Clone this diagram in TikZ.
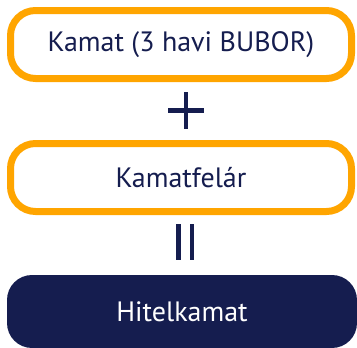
\documentclass[tikz,border=0pt]{standalone}
\usepackage{fontspec}
\setmainfont{PT Sans}
\definecolor{navy}{HTML}{151D4F}
\definecolor{boxorange}{HTML}{FFA500}
\begin{document}
\begin{tikzpicture}[x=1pt,y=-1pt,
  obox/.style={draw=boxorange,line width=7pt,fill=white,rounded corners=25pt,
    minimum width=341pt,minimum height=68pt,inner sep=0pt,text=navy,
    font=\fontsize{28}{30}\selectfont},
  nbox/.style={fill=navy,rounded corners=25pt,draw=none,
    minimum width=350pt,minimum height=73pt,inner sep=0pt,text=white,
    font=\fontsize{28}{30}\selectfont},
  sym/.style={draw=navy,line width=4.5pt}]
\useasboundingbox (0,0) rectangle (357,348);
\node[obox] (top) at (181,44.5) {Kamat (3 havi BUBOR)};
\node[obox] (mid) at (181,177.5) {Kamatfelár};
\node[nbox] (bot) at (182,311.5) {Hitelkamat};
\coordinate (pt) at (185.8,92.3);
\coordinate (pb) at (185.8,129);
\coordinate (pl) at (168.3,110.5);
\coordinate (pr) at (204,110.5);
\draw[sym] (pt) -- (pb);
\draw[sym] (pl) -- (pr);
\coordinate (e1t) at (178.3,224.3);
\coordinate (e1b) at (178.3,260);
\coordinate (e2t) at (191.8,224.3);
\coordinate (e2b) at (191.8,260);
\draw[sym] (e1t) -- (e1b);
\draw[sym] (e2t) -- (e2b);
\end{tikzpicture}
\end{document}
